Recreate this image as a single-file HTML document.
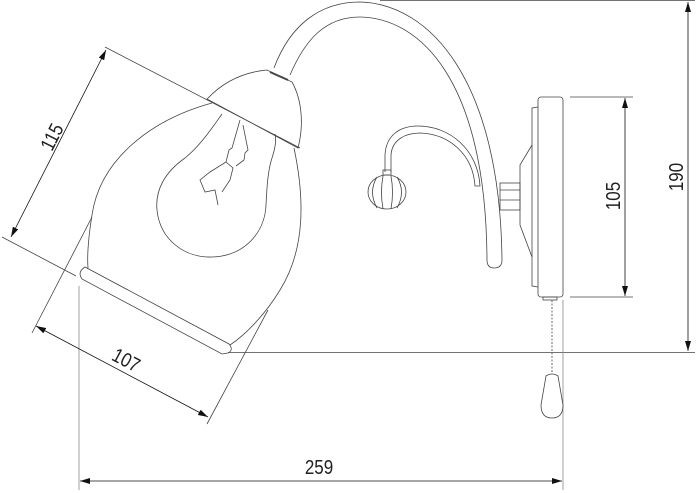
<!DOCTYPE html>
<html><head><style>html,body{margin:0;padding:0;background:#fff;}svg{display:block}</style></head>
<body>
<svg width="700" height="493" viewBox="0 0 700 493" xmlns="http://www.w3.org/2000/svg" font-family="Liberation Sans, sans-serif">
<defs>
<marker id="a" viewBox="0 0 10 6" refX="10" refY="3" markerWidth="10" markerHeight="6" orient="auto-start-reverse" markerUnits="userSpaceOnUse"><path d="M0,0 L10,3 L0,6 z" fill="#111"/></marker>
</defs>
<g fill="none" stroke="#444" stroke-width="0.8">
<line x1="380" y1="0.5" x2="695" y2="0.5"/>
<line x1="228" y1="352.5" x2="695" y2="352.5"/>
<line x1="688" y1="2" x2="688" y2="351" stroke="#111" marker-start="url(#a)" marker-end="url(#a)"/>
<line x1="570" y1="97" x2="633" y2="97"/>
<line x1="570" y1="297" x2="633" y2="297"/>
<line x1="625" y1="98" x2="625" y2="296" stroke="#111" marker-start="url(#a)" marker-end="url(#a)"/>
<line x1="79" y1="286" x2="79" y2="490" stroke="#888"/>
<line x1="563" y1="300" x2="563" y2="490" stroke="#888"/>
<line x1="80" y1="481" x2="562" y2="481" stroke="#111" marker-start="url(#a)" marker-end="url(#a)"/>
<line x1="105" y1="47" x2="300" y2="148"/>
<line x1="2" y1="237" x2="76" y2="276"/>
<line x1="106" y1="50" x2="11" y2="237" stroke="#111" marker-start="url(#a)" marker-end="url(#a)"/>
<line x1="92" y1="217" x2="32" y2="333"/>
<line x1="268" y1="310" x2="207" y2="424"/>
<line x1="36" y1="326" x2="208" y2="417" stroke="#111" marker-start="url(#a)" marker-end="url(#a)"/>

<rect x="538" y="97" width="25" height="200" rx="3"/>
<path d="M538,107 L532,108 L532,286 L538,287"/>
<path d="M532,145 L520,165 L520,225 L532,257"/>
<rect x="500" y="183" width="20" height="27"/>
<line x1="500" y1="190" x2="520" y2="190"/><line x1="500" y1="200" x2="520" y2="200"/>
<rect x="543" y="297" width="14" height="3"/>
<line x1="552" y1="300" x2="552" y2="374" stroke-dasharray="2 1.5"/>
<path d="M546,376 Q552,372 558,376 L563,405 Q563,418 552,418 Q541,418 541,405 Z"/>
<path d="M274,68 C290,25 320,2 360,2 C430,4 500,80 502,260"/>
<path d="M290,75 C305,40 325,17 360,17 C420,18 486,80 487,260"/>
<path d="M487,260 Q487,268 494,268 Q502,268 502,260"/>
<path d="M270,72 L288,80" stroke-width="2"/>
<path d="M385,172 L385,155 C386,135 400,126 418,126 C450,126 478,150 480,186 L475,186 C473,155 450,134 420,133 C405,133 392,140 391,155 L391,172"/>
<ellipse cx="387" cy="192" rx="19" ry="17"/>
<path d="M377,177 Q368,192 377,208 M383,176 Q380,192 383,209 M391,176 Q394,192 391,209 M397,177 Q406,192 397,208"/>
<rect x="383" y="170" width="8" height="5"/>
<path d="M207,99 C225,80 245,72 267,70 L292,82 C302,100 304,125 298,148 Z"/>
<path d="M212,103 C150,120 100,160 92,215 C88,240 87,255 88,268"/>
<path d="M294,148 C305,200 305,250 280,290 C265,315 245,335 230,345"/>
<path d="M85,267 L229,344 Q234,350 228,353 L222,354 L82,279 Q77,272 85,267 Z"/>
<!-- bulb -->
<path d="M222,114 C212,128 200,146 185,158 C165,172 155,190 157,210 C160,240 185,258 212,257 C245,256 265,232 266,205 C267,185 268,170 272,158 C276,146 276,138 275,134"/>
<path d="M240,120 L232,148 L229,150 L226,162 L210,172 L200,180 L205,192 L215,190 L218,205 M226,162 L233,168 L230,180 L222,192 M243,125 L248,150 L245,153 L244,160 L236,166"/>
</g>
<g fill="#222" font-size="20">
<text transform="translate(319,474) scale(0.85,1)" text-anchor="middle">259</text>
<text transform="translate(683,177) rotate(-90) scale(0.85,1)" text-anchor="middle">190</text>
<text transform="translate(620,196) rotate(-90) scale(0.85,1)" text-anchor="middle">105</text>
<text transform="translate(58,140) rotate(-63) scale(0.85,1)" text-anchor="middle">115</text>
<text transform="translate(123,366) rotate(28) scale(0.85,1)" text-anchor="middle">107</text>
</g>
</svg>
</body></html>
